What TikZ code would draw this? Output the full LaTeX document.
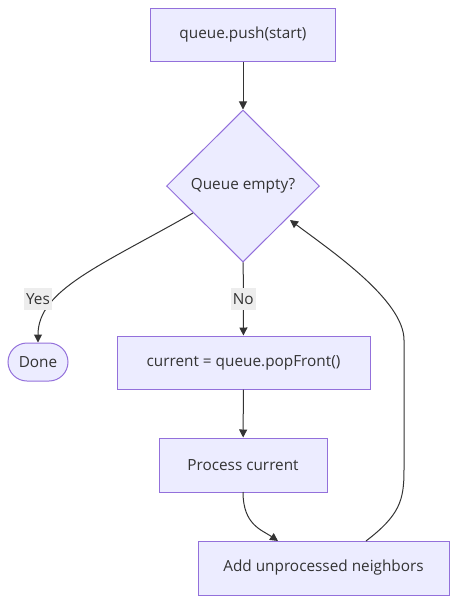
\documentclass[tikz,border=0pt]{standalone}
\usepackage{fontspec}
\setmainfont{Open Sans}
\usepackage{tikz}
\usetikzlibrary{arrows.meta}
\usetikzlibrary{shapes.geometric}
\usetikzlibrary{positioning}
\definecolor{boxfill}{HTML}{ECECFF}
\definecolor{boxline}{HTML}{9370DB}
\definecolor{ink}{HTML}{333333}
\definecolor{lblfill}{HTML}{EDEDED}

\begin{document}
\begin{tikzpicture}[x=0.75pt, y=-0.75pt, font=\fontsize{11.5}{13.5}\selectfont, text=ink]
\tikzstyle{proc}=[draw=boxline, fill=boxfill, line width=0.75pt, inner sep=0pt]
\tikzstyle{lbl}=[fill=lblfill, inner sep=1.5pt, minimum height=17pt]
\tikzstyle{arr}=[draw=ink, line width=0.75pt, -{Triangle[length=6pt, width=6pt]}]
\useasboundingbox (0,0) rectangle (465,612);
\node[proc, minimum width=138.75pt, minimum height=39.75pt] (push) at (243,35) {queue.push(start)};
\node[proc, diamond, minimum width=114.75pt, minimum height=114pt] (empty) at (243,186) {Queue empty?};
\node[proc, rounded corners=14.25pt, minimum width=45pt, minimum height=28.5pt] (done) at (38,362) {Done};
\node[proc, minimum width=189.75pt, minimum height=39.75pt] (pop) at (243.5,362.5) {current = queue.popFront()};
\node[proc, minimum width=126pt, minimum height=40.5pt] (process) at (243,465) {Process current};
\node[proc, minimum width=188.25pt, minimum height=40.5pt] (add) at (323.5,568) {Add unprocessed neighbors};
\coordinate (yesStart) at (193,213);
\coordinate (procOut) at (243,492);
\coordinate (addIn) at (278,541);
\coordinate (addOut) at (366,541);
\coordinate (loopIn) at (290,220);
%\draw[arr] (empty) -- (done);
\foreach \i/\j in {push/empty, pop/process}{
\draw[arr] (\i) -- (\j);}
\draw[arr] (empty) -- node[lbl] (noLbl) {No} (pop);
\draw[arr] (yesStart) .. controls (100,266) and (38,290) .. (done.north);
\node[lbl] (yesLbl) at (38,299) {Yes};
\draw[arr] (procOut) .. controls (243,525) and (262,530) .. (addIn);
\draw[arr] (addOut) .. controls (400,515) and (404,500) .. (404,470) -- (404,340) .. controls (404,300) and (330,250) .. (loopIn);
\end{tikzpicture}
\end{document}
